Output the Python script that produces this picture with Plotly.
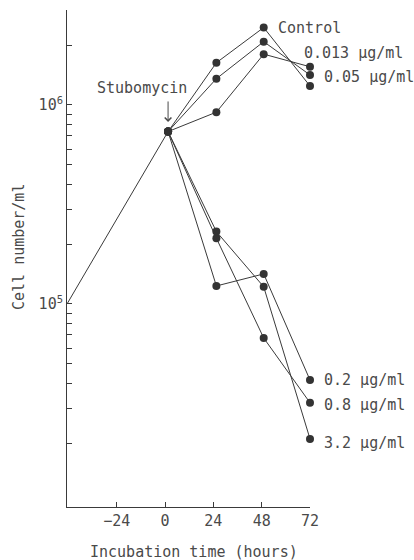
import math
import plotly.graph_objects as go

# ---- data ----
pre_times = [-48.7, 1.5]
pre_cells = [1.0e5, 7.35e5]

times = [1.5, 25.5, 49, 72]
series_names = ["Control", "0.013 μg/ml", "0.05 μg/ml", "0.2 μg/ml", "0.8 μg/ml", "3.2 μg/ml"]
series_values = [
    [7.35e5, 1.63e6, 2.45e6, 1.245e6],
    [7.35e5, 1.355e6, 2.08e6, 1.415e6],
    [7.35e5, 9.2e5, 1.80e6, 1.556e6],
    [7.35e5, 1.232e5, 1.416e5, 4.15e4],
    [7.35e5, 2.14e5, 6.75e4, 3.19e4],
    [7.35e5, 2.31e5, 1.22e5, 2.10e4],
]
label_times = [49, 72, 72, 72, 72, 72]
label_cells = [2.45e6, 1.82e6, 1.38e6, 4.15e4, 3.11e4, 2.0e4]

x_ticks = [-24, 0, 24, 48, 72]
x_tick_text = ["−24", "0", "24", "48", "72"]
y_ticks = [m * 10**e for e in (4, 5) for m in range(2, 10)] + [1e5, 1e6, 2e6, 3e6]
y_tick_text = {1e5: "10<sup>5</sup>", 1e6: "10<sup>6</sup>"}

FONT = "DejaVu Sans Mono"
INK = "#3a3a3a"
TXT = "#4a4a4a"

fig = go.Figure()
fig.add_trace(go.Scatter(x=pre_times, y=pre_cells, mode="lines",
                         line=dict(color=INK, width=1), cliponaxis=False,
                         showlegend=False, hoverinfo="skip"))
for name, vals in zip(series_names, series_values):
    fig.add_trace(go.Scatter(x=times, y=vals, mode="lines+markers", name=name,
                             line=dict(color=INK, width=1),
                             marker=dict(color="#333333", size=8),
                             cliponaxis=False, showlegend=False))

annotations = []
for name, lt, lc in zip(series_names, label_times, label_cells):
    annotations.append(dict(x=lt, y=math.log10(lc), xref="x", yref="y",
                            text=name, showarrow=False, xanchor="left",
                            yanchor="middle",
                            xshift=12 if name == "Control" else (-8 if name.startswith("0.013") else 12),
                            font=dict(family=FONT, size=15, color=TXT)))
annotations.append(dict(x=-11.4, y=6.085, xref="x", yref="y", text="Stubomycin",
                        showarrow=False, xanchor="center", yanchor="middle",
                        font=dict(family=FONT, size=15, color=TXT)))
# arrow pointing at the treatment point
annotations.append(dict(x=1.5, y=5.9146, xref="x", yref="y", text="",
                        showarrow=True, ax=0, ay=-22, arrowhead=4,
                        arrowsize=1.3, arrowwidth=1, arrowcolor=TXT))
annotations.append(dict(x=19, y=247, text="Cell number/ml",
                        showarrow=False, textangle=-90,
                        font=dict(family=FONT, size=15, color=TXT)))
annotations.append(dict(x=194, y=552, text="Incubation time (hours)",
                        showarrow=False, font=dict(family=FONT, size=15, color=TXT)))

# convert pixel-placed annotations (axis titles) to paper coords
W, H = 414, 560
ml, mr, mt, mb = 67, 104, 10, 53
pw, ph = W - ml - mr, H - mt - mb
for a in annotations[-2:]:
    px, py = a["x"], a["y"]
    a["x"] = (px - ml) / pw
    a["y"] = 1 - (py - mt) / ph
    a["xref"] = "paper"
    a["yref"] = "paper"
    a["xanchor"] = "center"
    a["yanchor"] = "middle"

fig.update_layout(
    width=W, height=H,
    margin=dict(l=ml, r=mr, t=mt, b=mb),
    paper_bgcolor="white", plot_bgcolor="white",
    font=dict(family=FONT, size=15, color=TXT),
    annotations=annotations,
    xaxis=dict(range=[-48.7, 72], tickmode="array", tickvals=x_ticks,
               ticktext=x_tick_text,
               ticks="inside", ticklen=5, tickcolor=INK, showline=True,
               linecolor=INK, linewidth=1, showgrid=False, zeroline=False,
               tickfont=dict(family=FONT, size=15, color=TXT)),
    yaxis=dict(type="log", range=[3.98, math.log10(3e6)], tickmode="array",
               tickvals=y_ticks, ticktext=[y_tick_text.get(v, "") for v in y_ticks],
               ticks="inside", ticklen=5, tickcolor=INK, showline=True,
               linecolor=INK, linewidth=1, showgrid=False, zeroline=False,
               tickfont=dict(family=FONT, size=15, color=TXT)),
)

fig.write_html("out.html")
